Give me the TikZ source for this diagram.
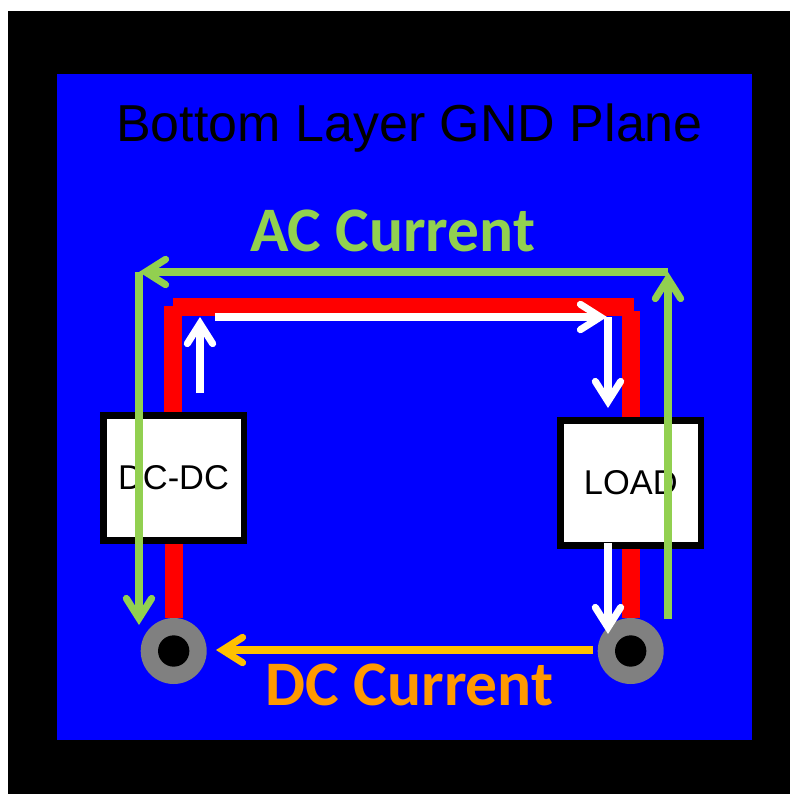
\documentclass[tikz,border=0pt]{standalone}
\usepackage{fontspec}
\setmainfont{Liberation Sans}
\newfontfamily\calibrifont{Carlito}
\usepackage{xcolor}
\usetikzlibrary{arrows.meta,backgrounds}
\definecolor{acgreen}{HTML}{92D050}
\definecolor{dcorange}{HTML}{FF9900}
\definecolor{dcyellow}{HTML}{FFC000}

\begin{document}
\begin{tikzpicture}[
    x=0.75pt, y=-0.75pt,
    box/.style={rectangle, draw=black, fill=white, line width=5pt, minimum width=105.5pt, minimum height=93.5pt, align=center, inner sep=0pt, font=\fontsize{25.8}{30}\selectfont},
    via/.style={circle, fill=gray, minimum size=49.5pt, inner sep=0pt},
    hole/.style={circle, fill=black, minimum size=23.5pt, inner sep=0pt},
    trace/.style={draw=red, line width=13.5pt},
    arr/.style={-{Straight Barb[length=15pt, width=19pt, line width=5.3pt, line cap=round, line join=miter]}, line width=5.3pt},
    title/.style={anchor=base, inner sep=0pt, font=\fontsize{39}{44}\selectfont},
    current/.style={anchor=base, inner sep=0pt, font=\calibrifont\bfseries\fontsize{47.6}{54}\selectfont},
]
\useasboundingbox (0,0) rectangle (790,794);

\node[title] (layer) at (409.5,141) {Bottom Layer GND Plane};
\node[current, text=acgreen] (aclabel) at (392.7,251) {AC Current};
\node[current, text=dcorange] (dclabel) at (409.7,705) {DC Current};

\node[box] (dcdc) at (173.5,478) {DC-DC};
\node[box] (load) at (630.8,483) {LOAD};
\node[via] (vial) at (173.7,651) {};
\node[via] (viar) at (630.7,651) {};
\node[hole] (holel) at (vial) {};
\node[hole] (holer) at (viar) {};

% copper
\coordinate (leftup) at (173,306);
\coordinate (cornerw) at (173,307);
\coordinate (cornere) at (634,307);
\coordinate (rightup) at (631,311);
\begin{scope}[on background layer]
\fill[black] (8,11) rectangle (790,794);
\fill[blue] (57,74) rectangle (752,740);
\draw[trace] (leftup) -- (leftup |- dcdc);
\draw[trace] (cornerw) -- (cornere);
\draw[trace] (rightup) -- (rightup |- load);
\draw[trace] (vial) -- (vial |- dcdc);
\draw[trace] (viar) -- (viar |- load);
\end{scope}

% white current path
\coordinate (upa) at (200,393);
\coordinate (upb) at (200,317);
\coordinate (topa) at (215,317);
\coordinate (topb) at (607,317);
\coordinate (downa) at (608,317);
\coordinate (downb) at (608,408);
\coordinate (lowa) at (608,543);
\coordinate (lowb) at (608,634);
\draw[arr, white] (upa) -- (upb);
\draw[arr, white] (topa) -- (topb);
\draw[arr, white] (downa) -- (downb);
\draw[arr, white] (lowa) -- (lowb);

% return paths
\coordinate (acstart) at (668,619);
\coordinate (acne) at (668,272);
\coordinate (acnw) at (139,272);
\coordinate (acend) at (139,625);
\draw[arr, acgreen] (acstart) -- (acne);
\draw[arr, acgreen] (acne) -- (acnw);
\draw[arr, acgreen] (acnw) -- (acend);

\coordinate (dcstart) at (593,650);
\coordinate (dcend) at (216,650);
\draw[arr, dcyellow] (dcstart) -- (dcend);
\end{tikzpicture}
\end{document}
